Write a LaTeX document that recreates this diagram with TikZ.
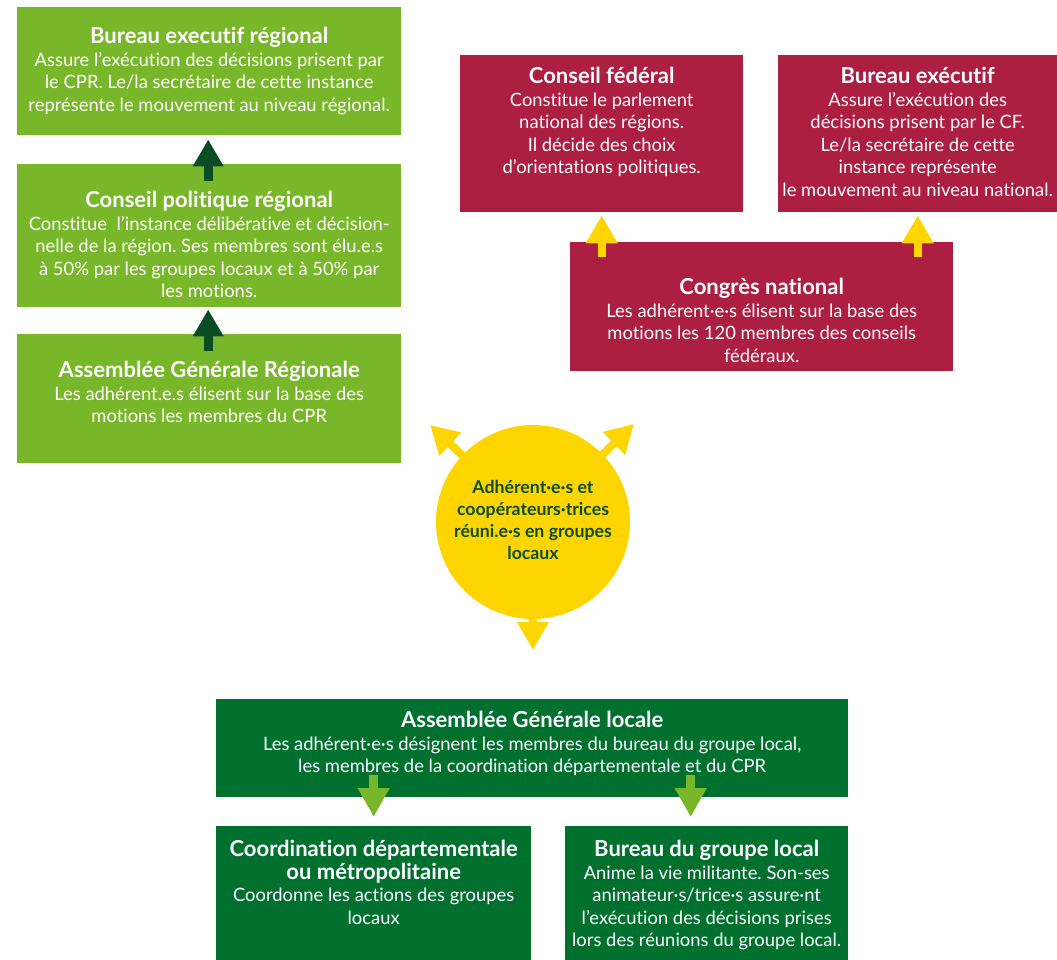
\documentclass[tikz,border=0pt]{standalone}
\usepackage{fontspec}
\setmainfont{Lato}[Ligatures=NoCommon]
\frenchspacing
\usetikzlibrary{arrows.meta,calc}
\definecolor{lgreen}{HTML}{78B72A}
\definecolor{dgreen}{HTML}{00702F}
\definecolor{darrow}{HTML}{0A4D24}
\definecolor{crimson}{HTML}{AD1E43}
\definecolor{yell}{HTML}{FFD500}
\tikzset{
  box/.style={rectangle, inner sep=0pt, anchor=north west},
  txt/.style={anchor=north, inner sep=0pt, align=center, text=white,
    font=\fontsize{18.4}{22.6}\selectfont},
  darr/.style={draw=darrow, line width=9pt, -{Triangle[width=29pt,length=27pt]}},
  yarr/.style={draw=yell, line width=8pt, -{Triangle[width=30pt,length=28pt]}},
  garr/.style={draw=lgreen, line width=9pt, -{Triangle[width=30pt,length=29pt]}},
}
\newcommand{\ttlf}[1]{{\fontsize{22}{22.6}\selectfont\bfseries #1}}
\begin{document}
\begin{tikzpicture}[x=1pt,y=-1pt]
\useasboundingbox (0,0) rectangle (1057,960);

% regional boxes
\node[box, fill=lgreen, minimum width=384pt, minimum height=128pt] (ber) at (17,7) {};
\node[box, fill=lgreen, minimum width=384pt, minimum height=143pt] (cpr) at (17,164) {};
\node[box, fill=lgreen, minimum width=384pt, minimum height=129pt] (agr) at (17,334) {};
% national boxes
\node[box, fill=crimson, minimum width=283pt, minimum height=157pt] (cf) at (460,55) {};
\node[box, fill=crimson, minimum width=279pt, minimum height=157pt] (be) at (778,55) {};
\node[box, fill=crimson, minimum width=383pt, minimum height=129pt] (cn) at (570,242) {};
% local boxes
\node[box, fill=dgreen, minimum width=632pt, minimum height=98pt] (agl) at (216,699) {};
\node[box, fill=dgreen, minimum width=315pt, minimum height=134pt] (cd) at (216,826) {};
\node[box, fill=dgreen, minimum width=283pt, minimum height=134pt] (bgl) at (565,826) {};

% texts
\node[txt] (bert) at ($(ber.north)+(0,20)$) {\ttlf{Bureau executif régional}\\Assure l’exécution des décisions prisent par\\le CPR. Le/la secrétaire de cette instance\\représente le mouvement au niveau régional.};
\node[txt] (cprt) at ($(cpr.north)+(0,27)$) {\ttlf{Conseil politique régional}\\Constitue\ \ l’instance délibérative et décision-\\nelle de la région. Ses membres sont élu.e.s\\à 50\% par les groupes locaux et à 50\% par\\les motions.};
\node[txt] (agrt) at ($(agr.north)+(0,27)$) {\ttlf{Assemblée Générale Régionale}\\Les adhérent.e.s élisent sur la base des\\motions les membres du CPR};
\node[txt] (cft) at ($(cf.north)+(0,12)$) {\ttlf{Conseil fédéral}\\Constitue le parlement\\national des régions.\\Il décide des choix\\d’orientations politiques.};
\node[txt] (bet) at ($(be.north)+(0,12)$) {\ttlf{Bureau exécutif}\\Assure l’exécution des\\décisions prisent par le CF.\\Le/la secrétaire de cette\\instance représente\\le mouvement au niveau national.};
\node[txt] (cnt) at ($(cn.north)+(0,36)$) {\ttlf{Congrès national}\\Les adhérent·e·s élisent sur la base des\\motions les 120 membres des conseils\\fédéraux.};
\node[txt] (aglt) at ($(agl.north)+(0,12)$) {\ttlf{Assemblée Générale locale}\\Les adhérent·e·s désignent les membres du bureau du groupe local,\\les membres de la coordination départementale et du CPR};
\node[txt] (cdt) at ($(cd.north)+(0,14)$) {\ttlf{Coordination départementale}\\\ttlf{ou métropolitaine}\\Coordonne les actions des groupes\\locaux};
\node[txt] (bglt) at ($(bgl.north)+(0,14)$) {\ttlf{Bureau du groupe local}\\Anime la vie militante. Son-ses\\animateur·s/trice·s assure·nt\\l’exécution des décisions prises\\lors des réunions du groupe local.};

% regional arrows
\draw[darr] ($(cpr.north)+(-1,17)$) -- ($(ber.south)+(-1,4)$);
\draw[darr] ($(agr.north)+(-1,17)$) -- ($(cpr.south)+(-1,2)$);
% national arrows
\draw[yarr] ($(cf.south |- cn.north)+(0,15)$) -- ($(cf.south)+(0,3)$);
\draw[yarr] ($(be.south |- cn.north)+(0,15)$) -- ($(be.south)+(0,3)$);
% local arrows
\draw[garr] ($(cd.north |- agl.south)+(0,-22)$) -- ($(cd.north)+(0,-9)$);
\draw[garr] ($(bgl.north |- agl.south)+(-16,-22)$) -- ($(bgl.north)+(-16,-9)$);

% circle
\coordinate (t1) at (430,425);
\coordinate (t2) at (634,424);
\coordinate (t3) at (533,650);
\node[circle, fill=yell, minimum size=194pt, inner sep=0pt] (circ) at (533,522) {};
\draw[yarr] (circ.center) -- (t1);
\draw[yarr] (circ.center) -- (t2);
\draw[yarr] (circ.center) -- (t3);
\node[anchor=center, inner sep=0pt, align=center, text=darrow,
  font=\fontsize{17.7}{22}\selectfont\bfseries] (circt) at (533,520)
  {Adhérent·e·s et\\coopérateurs·trices\\réuni.e·s en groupes\\locaux};
\end{tikzpicture}
\end{document}
